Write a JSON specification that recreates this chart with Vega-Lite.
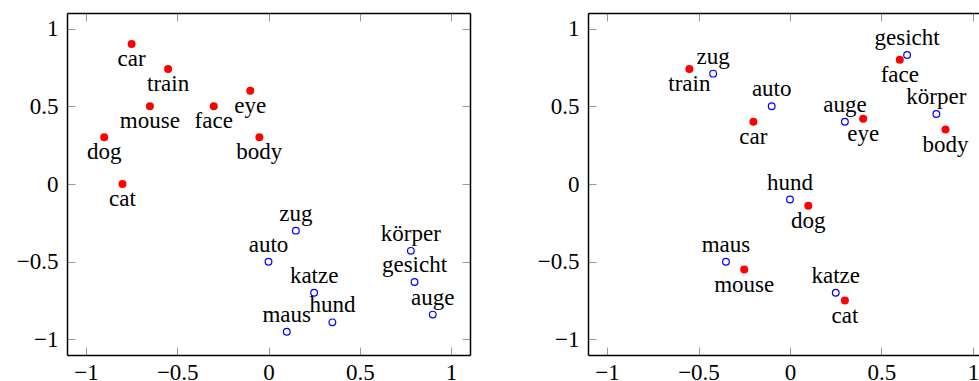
{
  "$schema": "https://vega.github.io/schema/vega-lite/v6.json",
  "padding": {"left": 5, "top": 12, "right": 0, "bottom": 0},
  "spacing": 55,
  "background": "white",
  "datasets": {
    "p1": [
      {"word": "car", "x": -0.75, "y": 0.9, "lang": "en"},
      {"word": "train", "x": -0.55, "y": 0.74, "lang": "en"},
      {"word": "mouse", "x": -0.65, "y": 0.5, "lang": "en"},
      {"word": "face", "x": -0.3, "y": 0.5, "lang": "en"},
      {"word": "eye", "x": -0.1, "y": 0.6, "lang": "en"},
      {"word": "body", "x": -0.05, "y": 0.3, "lang": "en"},
      {"word": "dog", "x": -0.9, "y": 0.3, "lang": "en"},
      {"word": "cat", "x": -0.8, "y": 0.0, "lang": "en"},
      {"word": "zug", "x": 0.15, "y": -0.3, "lang": "de"},
      {"word": "auto", "x": 0.0, "y": -0.5, "lang": "de"},
      {"word": "katze", "x": 0.25, "y": -0.7, "lang": "de"},
      {"word": "hund", "x": 0.35, "y": -0.89, "lang": "de"},
      {"word": "maus", "x": 0.1, "y": -0.95, "lang": "de"},
      {"word": "körper", "x": 0.78, "y": -0.43, "lang": "de"},
      {"word": "gesicht", "x": 0.8, "y": -0.63, "lang": "de"},
      {"word": "auge", "x": 0.9, "y": -0.84, "lang": "de"}
    ],
    "p2": [
      {"word": "train", "x": -0.55, "y": 0.74, "lang": "en"},
      {"word": "car", "x": -0.2, "y": 0.4, "lang": "en"},
      {"word": "eye", "x": 0.4, "y": 0.42, "lang": "en"},
      {"word": "face", "x": 0.6, "y": 0.8, "lang": "en"},
      {"word": "body", "x": 0.85, "y": 0.35, "lang": "en"},
      {"word": "dog", "x": 0.1, "y": -0.14, "lang": "en"},
      {"word": "mouse", "x": -0.25, "y": -0.55, "lang": "en"},
      {"word": "cat", "x": 0.3, "y": -0.75, "lang": "en"},
      {"word": "zug", "x": -0.42, "y": 0.71, "lang": "de"},
      {"word": "gesicht", "x": 0.64, "y": 0.83, "lang": "de"},
      {"word": "auto", "x": -0.1, "y": 0.5, "lang": "de"},
      {"word": "auge", "x": 0.3, "y": 0.4, "lang": "de"},
      {"word": "körper", "x": 0.8, "y": 0.45, "lang": "de"},
      {"word": "hund", "x": 0.0, "y": -0.1, "lang": "de"},
      {"word": "maus", "x": -0.35, "y": -0.5, "lang": "de"},
      {"word": "katze", "x": 0.25, "y": -0.7, "lang": "de"}
    ]
  },
  "config": {
    "view": {"stroke": null},
    "font": "Liberation Serif",
    "axis": {
      "grid": false,
      "title": null,
      "domainColor": "black",
      "domainWidth": 1.5,
      "tickColor": "#999999",
      "tickWidth": 1,
      "tickSize": -8,
      "labelFont": "Liberation Serif",
      "labelFontSize": 23,
      "labelColor": "black",
      "labelFlush": false,
      "labelOverlap": false
    }
  },
  "hconcat": [
    {
      "width": 403,
      "height": 342,
      "data": {"name": "p1"},
      "resolve": {"axis": {"x": "independent", "y": "independent"}},
      "layer": [
        {
          "transform": [{"filter": "datum.lang === 'en'"}],
          "mark": {"type": "point", "shape": "circle", "filled": true, "color": "#ff0000", "size": 64, "opacity": 1},
          "encoding": {
            "x": {"field": "x", "type": "quantitative", "scale": {"domain": [-1.104, 1.104], "nice": false, "zero": false},
                  "axis": {"orient": "bottom", "values": [-1, -0.5, 0, 0.5, 1], "format": "~g", "labelPadding": 14}},
            "y": {"field": "y", "type": "quantitative", "scale": {"domain": [-1.1, 1.1], "nice": false, "zero": false},
                  "axis": {"orient": "left", "values": [-1, -0.5, 0, 0.5, 1], "format": "~g", "labelPadding": 17, "minExtent": 62, "maxExtent": 62}}
          }
        },
        {
          "transform": [{"filter": "datum.lang === 'de'"}],
          "mark": {"type": "point", "shape": "circle", "filled": false, "color": "#0000ff", "size": 45, "strokeWidth": 1.2, "opacity": 1},
          "encoding": {
            "x": {"field": "x", "type": "quantitative", "axis": null},
            "y": {"field": "y", "type": "quantitative", "axis": null}
          }
        },
        {
          "transform": [{"filter": "datum.lang === 'en'"}],
          "mark": {"type": "text", "font": "Liberation Serif", "fontSize": 23, "color": "black", "align": "center", "baseline": "alphabetic", "dy": 22},
          "encoding": {
            "x": {"field": "x", "type": "quantitative",
                  "axis": {"orient": "top", "values": [-1, -0.5, 0, 0.5, 1], "labels": false, "minExtent": 0, "maxExtent": 0}},
            "y": {"field": "y", "type": "quantitative",
                  "axis": {"orient": "right", "values": [-1, -0.5, 0, 0.5, 1], "labels": false, "minExtent": 0, "maxExtent": 0}},
            "text": {"field": "word"}
          }
        },
        {
          "transform": [{"filter": "datum.lang === 'de'"}],
          "mark": {"type": "text", "font": "Liberation Serif", "fontSize": 23, "color": "black", "align": "center", "baseline": "alphabetic", "dy": -10},
          "encoding": {
            "x": {"field": "x", "type": "quantitative", "axis": null},
            "y": {"field": "y", "type": "quantitative", "axis": null},
            "text": {"field": "word"}
          }
        }
      ]
    },
    {
      "width": 391,
      "height": 342,
      "data": {"name": "p2"},
      "resolve": {"axis": {"x": "independent", "y": "independent"}},
      "layer": [
        {
          "transform": [{"filter": "datum.lang === 'en'"}],
          "mark": {"type": "point", "shape": "circle", "filled": true, "color": "#ff0000", "size": 64, "opacity": 1},
          "encoding": {
            "x": {"field": "x", "type": "quantitative", "scale": {"domain": [-1.104, 1.033], "nice": false, "zero": false},
                  "axis": {"orient": "bottom", "values": [-1, -0.5, 0, 0.5, 1], "format": "~g", "labelPadding": 14}},
            "y": {"field": "y", "type": "quantitative", "scale": {"domain": [-1.1, 1.1], "nice": false, "zero": false},
                  "axis": {"orient": "left", "values": [-1, -0.5, 0, 0.5, 1], "format": "~g", "labelPadding": 17, "minExtent": 62, "maxExtent": 62}}
          }
        },
        {
          "transform": [{"filter": "datum.lang === 'de'"}],
          "mark": {"type": "point", "shape": "circle", "filled": false, "color": "#0000ff", "size": 45, "strokeWidth": 1.2, "opacity": 1},
          "encoding": {
            "x": {"field": "x", "type": "quantitative", "axis": null},
            "y": {"field": "y", "type": "quantitative", "axis": null}
          }
        },
        {
          "transform": [{"filter": "datum.lang === 'en'"}],
          "mark": {"type": "text", "font": "Liberation Serif", "fontSize": 23, "color": "black", "align": "center", "baseline": "alphabetic", "dy": 22},
          "encoding": {
            "x": {"field": "x", "type": "quantitative",
                  "axis": {"orient": "top", "values": [-1, -0.5, 0, 0.5, 1], "labels": false, "minExtent": 0, "maxExtent": 0}},
            "y": {"field": "y", "type": "quantitative", "axis": null},
            "text": {"field": "word"}
          }
        },
        {
          "transform": [{"filter": "datum.lang === 'de'"}],
          "mark": {"type": "text", "font": "Liberation Serif", "fontSize": 23, "color": "black", "align": "center", "baseline": "alphabetic", "dy": -10},
          "encoding": {
            "x": {"field": "x", "type": "quantitative", "axis": null},
            "y": {"field": "y", "type": "quantitative", "axis": null},
            "text": {"field": "word"}
          }
        }
      ]
    }
  ]
}
